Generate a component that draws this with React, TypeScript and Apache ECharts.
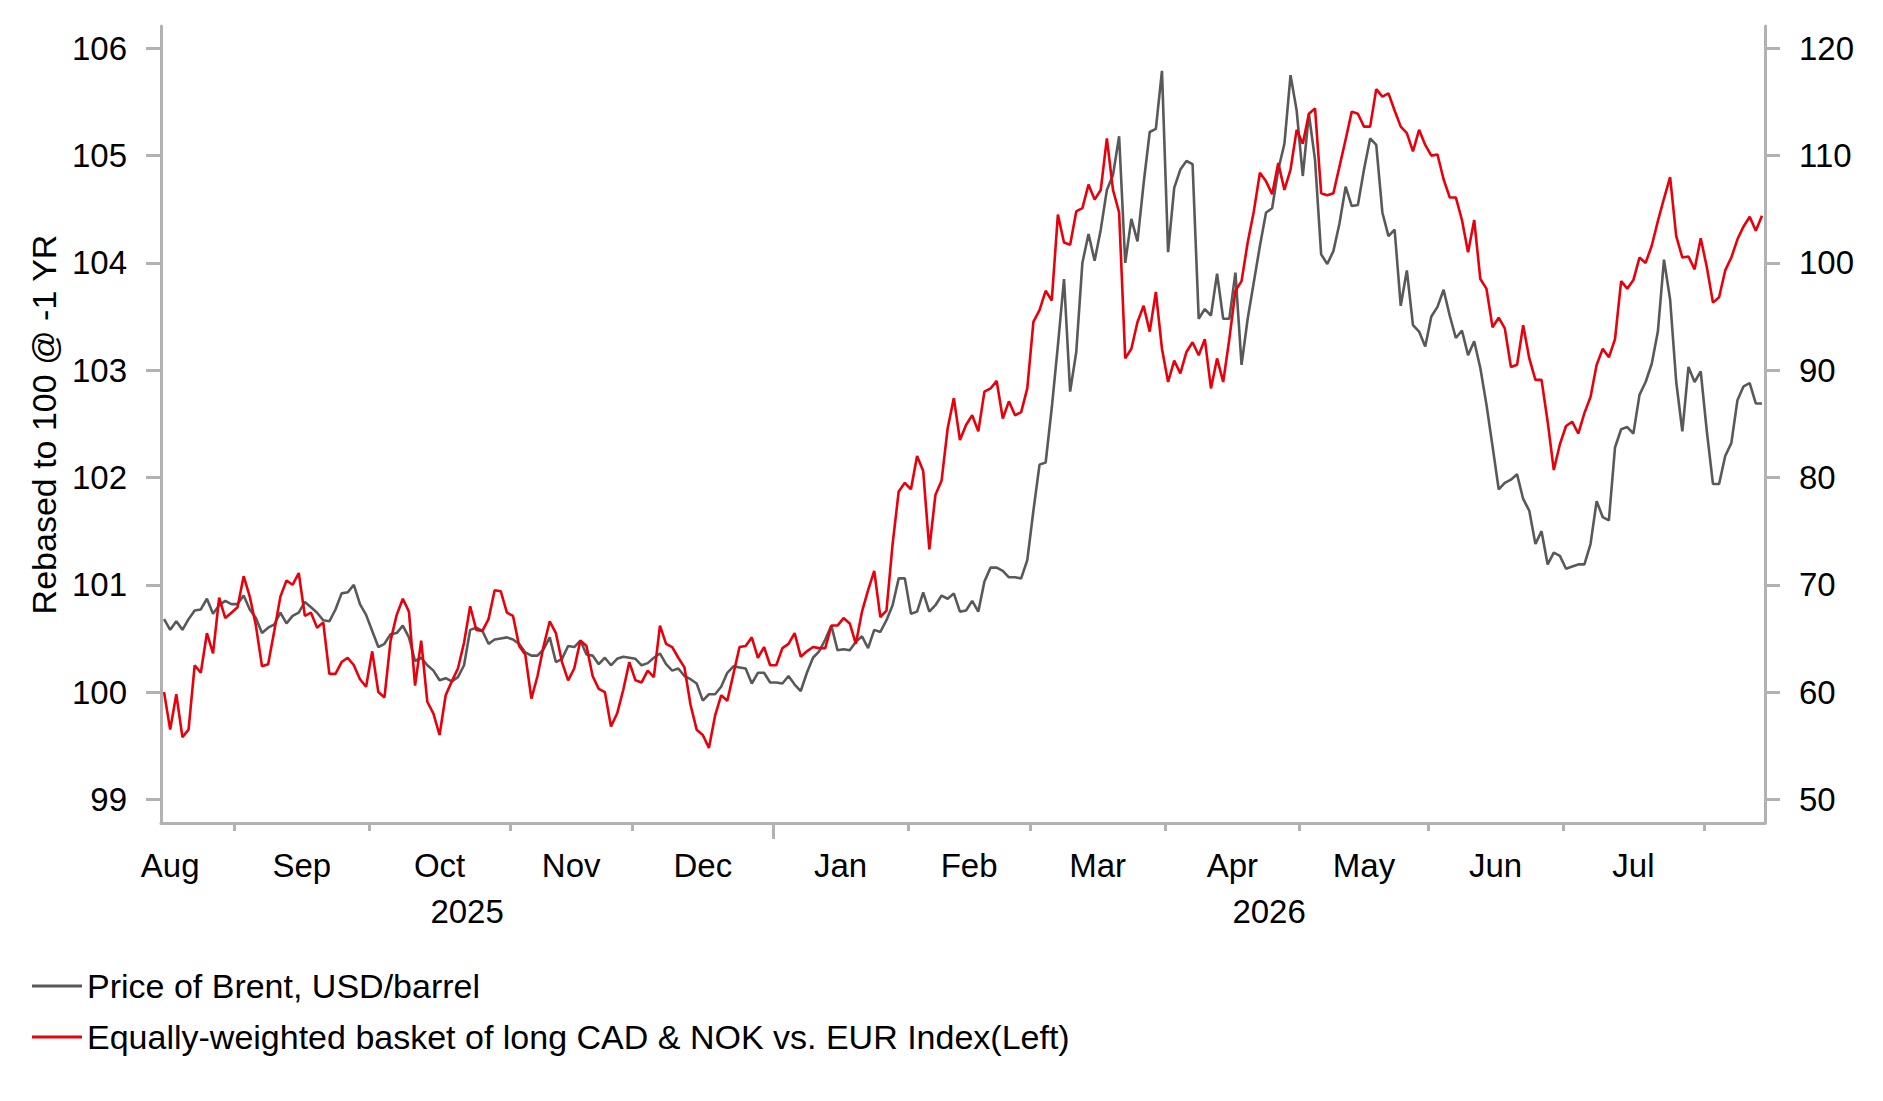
import { useEffect, useRef } from "react";
import * as echarts from "echarts";

// ---- Data ----
const MONTHS = ["Aug", "Sep", "Oct", "Nov", "Dec", "Jan", "Feb", "Mar", "Apr", "May", "Jun", "Jul", "Aug"];
// business days of each month inside the window (Aug 14 2025 .. Aug 14 2026)
const MONTH_BUSINESS_DAYS = [12, 22, 23, 20, 23, 22, 20, 22, 22, 21, 22, 23, 10];
const YEARS = ["2025", "2026"];
const YEAR_MONTH_COUNT = [5, 8];
const LEFT_TICKS = [99, 100, 101, 102, 103, 104, 105, 106];
const RIGHT_TICKS = [50, 60, 70, 80, 90, 100, 110, 120];

const BASKET_NAME = "Equally-weighted basket of long CAD & NOK vs. EUR Index(Left)";
const BRENT_NAME = "Price of Brent, USD/barrel";

// Equally-weighted basket index (left axis), one value per business day
const BASKET = [
  100.0, 99.65, 99.98, 99.58, 99.65, 100.25, 100.18, 100.55, 100.36, 100.88,
  100.69, 100.74, 100.79, 101.08, 100.89, 100.62, 100.24, 100.26, 100.57, 100.89,
  101.04, 101.0, 101.11, 100.71, 100.74, 100.6, 100.65, 100.17, 100.17, 100.28,
  100.32, 100.25, 100.12, 100.05, 100.38, 100.0, 99.95, 100.48, 100.72, 100.87,
  100.75, 100.06, 100.48, 99.91, 99.8, 99.6, 99.97, 100.1,
  100.22, 100.46, 100.8, 100.58, 100.57, 100.68, 100.95, 100.94, 100.74, 100.71,
  100.43, 100.35, 99.94, 100.15, 100.43, 100.66, 100.55, 100.28, 100.11, 100.22,
  100.48, 100.43, 100.15, 100.03, 100.0, 99.68, 99.8, 100.02, 100.28, 100.11,
  100.09, 100.2, 100.14, 100.62, 100.45, 100.42, 100.32, 100.23, 99.88, 99.65,
  99.6, 99.48, 99.78, 99.97, 99.92, 100.17, 100.42, 100.43, 100.51, 100.32,
  100.42, 100.25, 100.25,
  100.41, 100.45, 100.55, 100.33, 100.38, 100.42, 100.41, 100.41, 100.62, 100.62,
  100.69, 100.64, 100.45, 100.75, 100.95, 101.13, 100.7, 100.76, 101.38, 101.87, 101.95,
  101.89, 102.2, 102.06, 101.33, 101.84, 101.97, 102.46, 102.74, 102.35, 102.49,
  102.58, 102.43, 102.8, 102.83, 102.9, 102.55, 102.71, 102.58, 102.61, 102.83, 103.45, 103.56,
  103.74, 103.65, 104.45, 104.19, 104.17, 104.48, 104.51, 104.73, 104.59, 104.68,
  105.16, 104.68, 104.47, 103.11, 103.2, 103.45, 103.6, 103.36, 103.73, 103.2, 102.89,
  103.09, 102.97, 103.17, 103.26, 103.14, 103.29, 102.83, 103.11, 102.89, 103.29,
  103.74, 103.83, 104.19, 104.48, 104.84, 104.76, 104.64, 104.93, 104.68, 104.87, 105.24, 105.11,
  105.39, 105.44, 104.65, 104.63, 104.65, 104.9, 105.15, 105.41, 105.39, 105.27,
  105.27, 105.62, 105.55, 105.58, 105.42, 105.27, 105.21, 105.04, 105.24, 105.1, 105.0, 105.01,
  104.78, 104.61, 104.61, 104.4, 104.1, 104.4, 103.85, 103.76, 103.4, 103.49,
  103.39, 103.03, 103.05, 103.42, 103.11, 102.91, 102.91, 102.52, 102.07, 102.31, 102.48, 102.52,
  102.41, 102.6, 102.75, 103.05, 103.2, 103.12, 103.29, 103.83, 103.76, 103.84,
  104.05, 104.0, 104.16, 104.39, 104.6, 104.8, 104.25, 104.05, 104.06, 103.94,
  104.23, 103.96, 103.63, 103.68, 103.93, 104.05, 104.22, 104.34, 104.43, 104.3, 104.44,
];

// Brent price, USD/barrel (right axis)
const BRENT = [
  66.8, 65.8, 66.6, 65.8, 66.8, 67.6, 67.7, 68.7, 67.3, 68.1,
  68.5, 68.2, 68.2, 69.0, 67.7, 66.9, 65.5, 66.0, 66.3, 67.4,
  66.4, 67.1, 67.4, 68.4, 67.9, 67.4, 66.7, 66.6, 67.7, 69.2,
  69.3, 70.0, 68.2, 67.2, 65.7, 64.2, 64.5, 65.4, 65.5, 66.2,
  65.1, 62.9, 63.2, 62.5, 62.0, 61.1, 61.3, 61.0,
  61.4, 62.5, 65.8, 66.0, 65.7, 64.5, 64.9, 65.0, 65.1, 64.9,
  64.5, 63.7, 63.4, 63.4, 64.0, 65.1, 62.8, 63.1, 64.3, 64.2,
  64.8, 63.5, 63.4, 62.6, 63.2, 62.5, 63.1, 63.3, 63.2, 63.1,
  62.5, 62.7, 63.2, 63.6, 62.6, 62.0, 62.2, 61.5, 61.2, 60.8,
  59.2, 59.8, 59.8, 60.5, 61.8, 62.4, 62.3, 62.2, 60.8, 61.8,
  61.8, 60.9, 60.9,
  60.8, 61.5, 60.7, 60.1, 61.8, 63.2, 63.8, 64.9, 66.2, 63.9,
  64.0, 63.9, 64.7, 65.2, 64.1, 65.8, 65.6, 66.7, 68.1, 70.6, 70.6,
  67.3, 67.5, 69.3, 67.5, 68.1, 69.0, 68.7, 69.2, 67.5, 67.6,
  68.5, 67.5, 70.3, 71.6, 71.6, 71.3, 70.7, 70.7, 70.6, 72.3, 76.9, 81.2,
  81.4, 86.5, 92.3, 98.5, 88.0, 91.7, 100.0, 102.7, 100.2, 103.1,
  106.8, 108.2, 111.8, 100.0, 104.1, 102.0, 107.4, 112.2, 112.5, 117.9, 101.0,
  107.0, 108.7, 109.5, 109.2, 94.8, 95.7, 95.1, 99.0, 94.8, 94.8,
  99.1, 90.5, 94.8, 98.2, 101.6, 104.7, 105.1, 108.7, 111.1, 117.5, 114.2, 108.1,
  113.9, 109.6, 100.8, 99.9, 101.1, 103.7, 107.1, 105.3, 105.4, 108.7,
  111.6, 111.0, 104.7, 102.5, 103.1, 96.0, 99.3, 94.2, 93.6, 92.2, 95.0, 95.9,
  97.5, 95.1, 93.0, 93.7, 91.4, 92.7, 90.2, 86.8, 82.9, 78.9,
  79.5, 79.8, 80.3, 78.0, 76.9, 73.8, 75.0, 71.9, 73.0, 72.7, 71.5, 71.7,
  71.9, 71.9, 73.8, 77.8, 76.3, 76.0, 82.8, 84.5, 84.7, 84.1,
  87.7, 88.9, 90.6, 93.6, 100.3, 96.6, 88.9, 84.3, 90.3, 88.9,
  89.9, 84.3, 79.4, 79.4, 82.0, 83.2, 87.2, 88.5, 88.8, 86.9, 86.9,
];

// ---- Layout / derived positions ----
const FONT = "'Liberation Sans', Arial, Helvetica, sans-serif";
const AXIS_COLOR = "#b2b2b2";
const N = BASKET.length;

const monthStarts: number[] = [];
{
  let acc = 0;
  for (const d of MONTH_BUSINESS_DAYS) {
    monthStarts.push(acc);
    acc += d;
  }
}
const monthBoundaries = monthStarts.slice(1).map((s) => s - 0.5);
// label sits at the middle of each month's span; the partial first month label sits near the start
const monthLabelPos = MONTH_BUSINESS_DAYS.slice(0, 12).map((d, k) =>
  k === 0 ? 1 : monthStarts[k] + (d - 1) / 2
);
const yearStartsIdx: number[] = [];
const yearLabelPos: number[] = [];
{
  let m = 0;
  for (const c of YEAR_MONTH_COUNT) {
    const s = monthStarts[m];
    const e = m + c < monthStarts.length ? monthStarts[m + c] - 1 : N - 1;
    yearStartsIdx.push(s);
    yearLabelPos.push((s + e) / 2);
    m += c;
  }
}
const yearBoundaries = yearStartsIdx.slice(1).map((s) => s - 0.5);

const findLabel = (v: number, pos: number[], labels: string[]) => {
  for (let k = 0; k < pos.length; k++) if (Math.abs(pos[k] - v) < 0.01) return labels[k];
  return "";
};

const X_MIN = -0.5;
const X_MAX = N - 0.5;
const LEFT_MIN = 98.78;
const LEFT_MAX = 106.208;
const RIGHT_MIN = 47.8;
const RIGHT_MAX = 122.08;

export default function App() {
  const ref = useRef<HTMLDivElement>(null);

  useEffect(() => {
    if (!ref.current) return;
    const chart = echarts.init(ref.current, null, { renderer: "svg" });
    const axisText = { fontFamily: FONT, color: "#000", fontSize: 33 };
    const bigText = { fontFamily: FONT, color: "#000", fontSize: 34 };

    chart.setOption({
      animation: false,
      backgroundColor: "#ffffff",
      grid: { left: 161, right: 118, top: 26, bottom: 278, containLabel: false, outerBoundsMode: "none" },
      legend: {
        orient: "vertical",
        left: 27,
        top: 964,
        itemWidth: 50,
        itemHeight: 3,
        itemGap: 17,
        icon: "rect",
        selectedMode: false,
        textStyle: { ...bigText },
        data: [BRENT_NAME, BASKET_NAME],
      },
      xAxis: [
        {
          type: "value",
          min: X_MIN,
          max: X_MAX,
          position: "bottom",
          splitLine: { show: false },
          axisLine: { show: true, onZero: false, lineStyle: { color: AXIS_COLOR, width: 3 } },
          axisTick: {
            show: true,
            customValues: monthBoundaries,
            length: 8,
            lineStyle: { color: AXIS_COLOR, width: 3 },
          },
          axisLabel: {
            show: true,
            customValues: monthLabelPos,
            margin: 26,
            ...axisText,
            formatter: (v: number) => findLabel(v, monthLabelPos, MONTHS),
          },
        },
        {
          type: "value",
          min: X_MIN,
          max: X_MAX,
          position: "bottom",
          splitLine: { show: false },
          axisLine: { show: false, onZero: false },
          axisTick: {
            show: true,
            customValues: yearBoundaries,
            length: 16,
            lineStyle: { color: AXIS_COLOR, width: 3 },
          },
          axisLabel: {
            show: true,
            customValues: yearLabelPos,
            margin: 72,
            ...axisText,
            formatter: (v: number) => findLabel(v, yearLabelPos, YEARS),
          },
        },
      ],
      yAxis: [
        {
          type: "value",
          position: "left",
          min: LEFT_MIN,
          max: LEFT_MAX,
          name: "Rebased to 100 @ -1 YR",
          nameLocation: "middle",
          nameRotate: 90,
          nameGap: 99,
          nameTextStyle: { ...bigText },
          splitLine: { show: false },
          axisLine: { show: true, onZero: false, lineStyle: { color: AXIS_COLOR, width: 3 } },
          axisTick: {
            show: true,
            customValues: LEFT_TICKS,
            length: 15,
            lineStyle: { color: AXIS_COLOR, width: 3 },
          },
          axisLabel: {
            show: true,
            customValues: LEFT_TICKS,
            margin: 34,
            ...axisText,
            formatter: (v: number) => String(Math.round(v)),
          },
        },
        {
          type: "value",
          position: "right",
          min: RIGHT_MIN,
          max: RIGHT_MAX,
          splitLine: { show: false },
          axisLine: { show: true, onZero: false, lineStyle: { color: AXIS_COLOR, width: 3 } },
          axisTick: {
            show: true,
            customValues: RIGHT_TICKS,
            length: 15,
            lineStyle: { color: AXIS_COLOR, width: 3 },
          },
          axisLabel: {
            show: true,
            customValues: RIGHT_TICKS,
            margin: 34,
            ...axisText,
            formatter: (v: number) => String(Math.round(v)),
          },
        },
      ],
      series: [
        {
          name: BRENT_NAME,
          type: "line",
          xAxisIndex: 0,
          yAxisIndex: 1,
          symbol: "none",
          color: "#595959",
          lineStyle: { color: "#595959", width: 2.6 },
          data: BRENT.map((v, i) => [i, v]),
          z: 2,
        },
        {
          name: BASKET_NAME,
          type: "line",
          xAxisIndex: 0,
          yAxisIndex: 0,
          symbol: "none",
          color: "#e8000b",
          lineStyle: { color: "#e8000b", width: 2.6 },
          data: BASKET.map((v, i) => [i, v]),
          z: 3,
        },
      ],
    });

    return () => chart.dispose();
  }, []);

  return (
    <div
      ref={ref}
      style={{ position: "fixed", left: 0, top: 0, width: 1883, height: 1101, background: "#fff" }}
    />
  );
}
